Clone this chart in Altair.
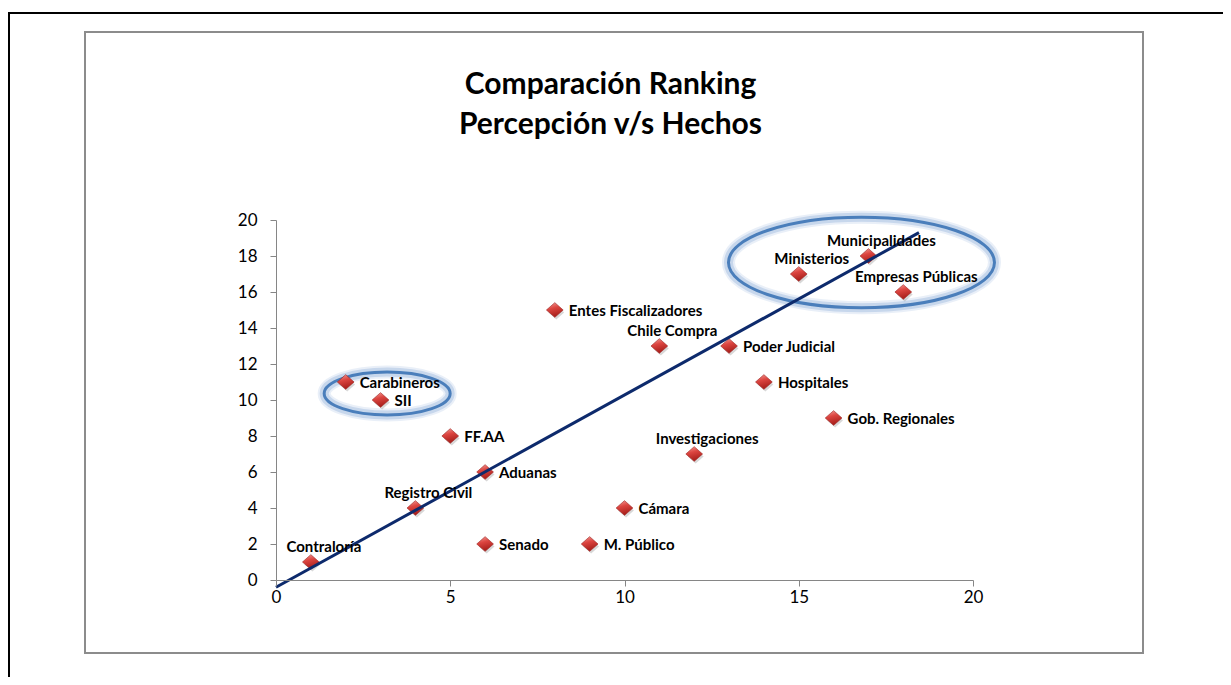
import altair as alt
import pandas as pd

# ---------------- data ----------------
names = ["Contraloría", "Carabineros", "SII", "Registro Civil", "FF.AA", "Aduanas",
         "Senado", "Entes Fiscalizadores", "M. Público", "Cámara", "Chile Compra",
         "Investigaciones", "Poder Judicial", "Hospitales", "Ministerios",
         "Gob. Regionales", "Municipalidades", "Empresas Públicas"]
hechos = [1, 2, 3, 4, 5, 6, 6, 8, 9, 10, 11, 12, 13, 14, 15, 16, 17, 18]
percepcion = [1, 11, 10, 4, 8, 6, 2, 15, 2, 4, 13, 7, 13, 11, 17, 9, 18, 16]
labels_above = ["Contraloría", "Registro Civil", "Chile Compra", "Investigaciones",
                "Ministerios", "Municipalidades", "Empresas Públicas"]

trend_x = [0, 18.45]
trend_y = [-0.4, 19.3]

small_ellipse_center = [3.19, 10.36]
big_ellipse_center = [16.8, 17.64]

x_ticks = [0, 5, 10, 15, 20]
y_ticks = [0, 2, 4, 6, 8, 10, 12, 14, 16, 18, 20]

title_lines = ["Comparación Ranking", "Percepción v/s Hechos"]

# ---------------- tables ----------------
pts = pd.DataFrame({"x": hechos, "y": percepcion, "name": names})
pts["pos"] = ["above" if n in labels_above else "right" for n in names]
trend = pd.DataFrame({"x": trend_x, "y": trend_y})
ell_small = pd.DataFrame({"x": [small_ellipse_center[0]], "y": [small_ellipse_center[1]]})
ell_big = pd.DataFrame({"x": [big_ellipse_center[0]], "y": [big_ellipse_center[1]]})

FONT = "Lato"
AXIS_GRAY = "#868686"

X = alt.X("x:Q", scale=alt.Scale(domain=[0, 20], nice=False, zero=False),
          axis=alt.Axis(values=x_ticks, title=None, grid=False, domainColor=AXIS_GRAY,
                        tickColor=AXIS_GRAY, tickSize=6, labelFont=FONT, labelFontSize=17,
                        labelColor="#000000", labelPadding=3, domainWidth=1, zindex=1,
                        labelFlush=False))
Y = alt.Y("y:Q", scale=alt.Scale(domain=[0, 20], nice=False, zero=False),
          axis=alt.Axis(values=y_ticks, title=None, grid=False, domainColor=AXIS_GRAY,
                        tickColor=AXIS_GRAY, tickSize=6, labelFont=FONT, labelFontSize=17,
                        labelColor="#000000", labelPadding=13, domainWidth=1, zindex=1,
                        labelFlush=False))

# ---------------- decorations (frames) ----------------
frame_df = pd.DataFrame({"k": [0]})
black_frame = alt.Chart(frame_df).mark_rect(fill=None, stroke="#000000", strokeWidth=2).encode(
    x=alt.value(-267), x2=alt.value(990), y=alt.value(-207), y2=alt.value(520))
gray_frame = alt.Chart(frame_df).mark_rect(fill="#ffffff", stroke="#8c8c8c", strokeWidth=2).encode(
    x=alt.value(-191), x2=alt.value(867), y=alt.value(-188), y2=alt.value(433))

# ---------------- ellipses ----------------
c = 0.5523
k = 0.34
ellipse_path = (
    f"M -1 0 C -1 {-c*k:.4f} {-c:.4f} {-k} 0 {-k} "
    f"C {c:.4f} {-k} 1 {-c*k:.4f} 1 0 "
    f"C 1 {c*k:.4f} {c:.4f} {k} 0 {k} "
    f"C {-c:.4f} {k} -1 {c*k:.4f} -1 0 Z"
)

def ellipse_layers(df, rx):
    size = (2 * rx) ** 2
    glow2 = alt.Chart(df).mark_point(shape=ellipse_path, size=size, filled=False,
                                     stroke="#dbe6f4", strokeWidth=13, opacity=0.6).encode(x=X, y=Y)
    glow = alt.Chart(df).mark_point(shape=ellipse_path, size=size, filled=False,
                                    stroke="#b9cde8", strokeWidth=9, opacity=0.7).encode(x=X, y=Y)
    ring = alt.Chart(df).mark_point(shape=ellipse_path, size=size, filled=False,
                                    stroke="#4a7ebb", strokeWidth=3, opacity=1).encode(x=X, y=Y)
    return [glow2, glow, ring]

# ---------------- points ----------------
diamond = "M -1 0 L 0 -0.88 L 1 0 L 0 0.88 Z"
shadow = alt.Chart(pts).mark_point(shape=diamond, size=250, filled=True, fill="#7f7f7f",
                                   opacity=0.3, strokeWidth=0, xOffset=1.5, yOffset=2.5).encode(x=X, y=Y)
grad = alt.LinearGradient(gradient="linear", x1=0, y1=0, x2=0.3, y2=1,
                          stops=[alt.GradientStop(color="#f4a19c", offset=0),
                                 alt.GradientStop(color="#dc4540", offset=0.45),
                                 alt.GradientStop(color="#a81f1b", offset=1)])
points = alt.Chart(pts).mark_point(shape=diamond, size=280, filled=True, fill=grad,
                                   stroke="#9b1f1b", strokeWidth=0.6, opacity=1).encode(x=X, y=Y)

trend_line = alt.Chart(trend).mark_line(color="#0d2a6c", strokeWidth=3).encode(x=X, y=Y)

lab_right = alt.Chart(pts).transform_filter(alt.datum.pos == "right").mark_text(
    align="left", baseline="middle", dx=14, dy=1, font=FONT, fontSize=15, fontWeight="bold",
    color="#000000").encode(x=X, y=Y, text="name:N")
lab_above = alt.Chart(pts).transform_filter(alt.datum.pos == "above").mark_text(
    align="center", baseline="middle", dx=13, dy=-15, font=FONT, fontSize=15, fontWeight="bold",
    color="#000000").encode(x=X, y=Y, text="name:N")

layers = [black_frame, gray_frame] + ellipse_layers(ell_small, 63) + ellipse_layers(ell_big, 133) + \
    [shadow, points, trend_line, lab_right, lab_above]

chart = alt.layer(*layers).properties(
    width=697, height=360,
    autosize=alt.AutoSizeParams(type="none"),
    padding={"left": 268, "top": 212, "right": 250, "bottom": 97},
    title=alt.Title(text=title_lines, font=FONT, fontSize=30, fontWeight="bold", color="#000000",
                    anchor="middle", frame="group", dx=-14, dy=158, lineHeight=40,
                    baseline="bottom", offset=0),
).configure_view(stroke=None).configure(background="#ffffff")

chart.save("out.html", embed_options={"renderer": "svg", "actions": False})
